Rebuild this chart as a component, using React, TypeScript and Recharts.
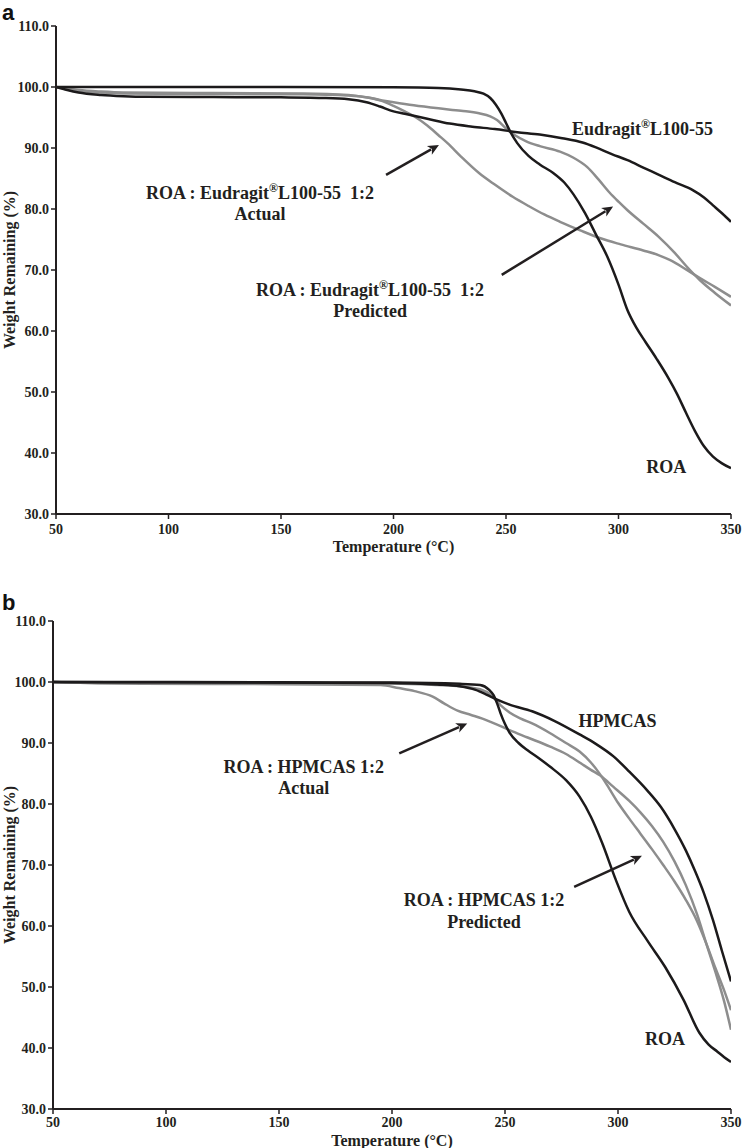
import React from 'react';
import {
	Label,
	Line,
	LineChart,
	ReferenceDot,
	ReferenceLine,
	XAxis,
	YAxis,
} from 'recharts';

type Pt = [number, number];

const xTicks = [50, 100, 150, 200, 250, 300, 350];
const yTicks = [30, 40, 50, 60, 70, 80, 90, 100, 110];

// panel a: temperature (°C), weight remaining (%)
const roaA: Pt[] = [
	[50, 100], [100, 100], [150, 100], [200, 99.95], [220, 99.85], [230, 99.6],
	[236, 99.3], [240, 98.9], [243, 98.2], [245.5, 97.1], [248, 95.6], [250, 94.1],
	[252, 92.6], [255, 90.8], [260, 88.7], [265, 87.3], [271, 85.9], [276, 84.3],
	[280, 82.4], [285, 79.4], [290, 75.8], [295, 72.2], [300, 67.6], [304, 63.4],
	[308, 60.5], [312, 58.2], [317, 55.4], [322, 52.4], [326, 49.7], [330, 46.6],
	[334, 43.6], [338, 41.1], [342, 39.4], [346, 38.3], [350, 37.5],
];
const eudragitA: Pt[] = [
	[50, 100], [55, 99.5], [60, 99.1], [70, 98.7], [80, 98.5], [90, 98.4],
	[120, 98.35], [150, 98.3], [170, 98.2], [180, 98.0], [188, 97.5], [194, 96.8],
	[200, 96.0], [205, 95.6], [215, 94.8], [225, 94.0], [235, 93.5], [245, 93.1],
	[255, 92.6], [265, 92.2], [275, 91.6], [284, 90.9], [290, 90.1], [297, 89.0],
	[304, 88.0], [311, 86.8], [318, 85.6], [325, 84.4], [333, 83.1], [338, 81.9],
	[342, 80.6], [346, 79.3], [350, 77.9],
];
const actualA: Pt[] = [
	[50, 100], [60, 99.5], [70, 99.25], [80, 99.1], [120, 99.0], [160, 98.95],
	[180, 98.7], [188, 98.3], [194, 97.8], [200, 96.9], [205, 96.0], [210, 95.0],
	[215, 93.7], [220, 92.1], [224, 90.8], [230, 88.6], [238, 85.9], [245, 84.0],
	[253, 82.0], [260, 80.5], [267, 79.1], [274, 77.9], [283, 76.5], [292, 75.2],
	[301, 74.2], [311, 73.2], [318, 72.4], [323, 71.6], [330, 70.1], [336, 68.7],
	[343, 67.2], [350, 65.6],
];
const predictedA: Pt[] = [
	[50, 100], [60, 99.4], [70, 99.1], [80, 98.95], [120, 98.85], [160, 98.8],
	[180, 98.6], [190, 98.2], [195, 97.8], [200, 97.5], [209, 97.0], [220, 96.5],
	[230, 96.1], [238, 95.7], [243, 95.2], [246, 94.6], [250, 93.2], [254, 92.1],
	[259, 91.1], [265, 90.3], [274, 89.4], [280, 88.4], [286, 86.9], [291, 84.9],
	[296, 82.7], [300, 81.2], [304, 79.8], [311, 77.6], [318, 75.4], [325, 72.8],
	[330, 70.7], [336, 68.4], [343, 66.2], [350, 64.2],
];

// panel b
const roaB: Pt[] = [
	[50, 100], [150, 99.95], [200, 99.9], [230, 99.7], [239, 99.5], [243, 98.7],
	[245, 97.8], [246.5, 96.5], [248, 94.9], [250, 93.1], [252, 91.7], [256, 90.0],
	[260, 88.8], [265, 87.5], [270, 86.1], [277, 83.9], [283, 81.2], [288, 77.9],
	[293, 73.6], [299, 67.6], [305, 62.3], [313, 57.6], [321, 53.2], [329, 47.9],
	[336, 42.5], [340, 40.6], [344, 39.4], [347, 38.5], [350, 37.7],
];
const hpmcasB: Pt[] = [
	[50, 100], [100, 99.95], [200, 99.85], [220, 99.6], [230, 99.3], [237, 98.7],
	[242, 97.9], [246, 97.2], [252, 96.3], [262, 95.2], [272, 93.6], [283, 91.4],
	[290, 89.9], [298, 87.8], [305, 85.3], [313, 82.2], [319, 79.5], [325, 75.9],
	[330, 72.4], [334, 69.1], [338, 65.4], [342, 61.0], [346, 55.9], [350, 50.9],
];
const actualB: Pt[] = [
	[50, 100], [70, 99.8], [90, 99.7], [150, 99.65], [195, 99.5], [203, 99.0],
	[210, 98.5], [218, 97.6], [223, 96.5], [229, 95.3], [235, 94.6], [240, 94.0],
	[246, 93.1], [252, 92.1], [260, 90.9], [270, 89.4], [277, 88.2], [283, 86.8],
	[288, 85.6], [292, 84.7], [298, 82.8], [305, 80.5], [310, 78.6], [315, 76.4],
	[320, 73.8], [325, 70.6], [330, 66.7], [335, 61.9], [339, 57.2], [343, 52.6],
	[347, 47.6], [350, 43.0],
];
const predictedB: Pt[] = [
	[50, 100], [70, 99.85], [150, 99.8], [200, 99.75], [220, 99.5], [230, 99.3],
	[239, 98.8], [244, 97.8], [248, 96.2], [252, 95.0], [257, 94.0], [262, 93.2],
	[270, 91.6], [277, 90.0], [283, 88.6], [288, 86.8], [292, 84.9], [296, 82.6],
	[300, 80.2], [305, 77.6], [310, 75.1], [315, 72.6], [320, 70.0], [325, 67.3],
	[330, 64.3], [335, 60.8], [339, 57.2], [343, 53.2], [347, 49.4], [350, 46.2],
];

// annotations, in data units: [temperature, weight, text]
const notesA: [number, number, string][] = [
	[310.7, 93.2, 'Eudragit®L100-55'],
	[140.7, 82.6, 'ROA : Eudragit®L100-55  1:2'],
	[140.7, 79.3, 'Actual'],
	[189.6, 66.7, 'ROA : Eudragit®L100-55  1:2'],
	[189.6, 63.4, 'Predicted'],
	[321.2, 37.8, 'ROA'],
];
const arrowsA: [number, number, number, number][] = [
	[196.7, 85.6, 220.2, 90.5],
	[248.1, 69.2, 297.6, 80.4],
];
const notesB: [number, number, string][] = [
	[299.8, 93.6, 'HPMCAS'],
	[161, 86.1, 'ROA : HPMCAS 1:2'],
	[161, 82.6, 'Actual'],
	[240.7, 64.3, 'ROA : HPMCAS 1:2'],
	[240.7, 60.7, 'Predicted'],
	[320.8, 41.6, 'ROA'],
];
const arrowsB: [number, number, number, number][] = [
	[203.2, 88.3, 233.3, 93.2],
	[280.6, 66.4, 310.6, 71.5],
];

const INK = '#231f20';
const BLACK = '#1c1a1b';
const GRAY = '#8d8d8d';
const SERIF = '"Liberation Serif", "Times New Roman", serif';

const rows = (pts: Pt[]) => pts.map(([t, w]) => ({t, w}));

function NoteText({cx, cy, text}: {cx: number; cy: number; text: string}) {
	const parts = text.split('®');
	return (
		<text
			x={cx}
			y={cy}
			dy="0.35em"
			textAnchor="middle"
			fontFamily={SERIF}
			fontWeight="bold"
			fontSize={18}
			fill={INK}
			style={{whiteSpace: 'pre'}}
		>
			{parts.length === 1 ? (
				text
			) : (
				<>
					<tspan>{parts[0]}</tspan>
					<tspan dy={-7} fontSize={12}>
						®
					</tspan>
					<tspan dy={7}>{parts[1]}</tspan>
				</>
			)}
		</text>
	);
}

function Arrow({x1, y1, x2, y2}: any) {
	const dx = x2 - x1;
	const dy = y2 - y1;
	const len = Math.sqrt(dx * dx + dy * dy) || 1;
	const ux = dx / len;
	const uy = dy / len;
	const head = 11;
	const half = 5;
	const bx = x2 - ux * head;
	const by = y2 - uy * head;
	return (
		<g>
			<line
				x1={x1}
				y1={y1}
				x2={bx + ux * 2}
				y2={by + uy * 2}
				stroke={INK}
				strokeWidth={2.5}
			/>
			<polygon
				points={`${x2},${y2} ${bx - uy * half},${by + ux * half} ${bx + ux * 3},${by + uy * 3} ${bx + uy * half},${by - ux * half}`}
				fill={INK}
			/>
		</g>
	);
}

function Panel({
	width,
	height,
	margin,
	yWidth,
	xHeight,
	xLabelOffset,
	xTickMargin,
	series,
	notes,
	arrows,
}: {
	width: number;
	height: number;
	margin: {top: number; right: number; bottom: number; left: number};
	yWidth: number;
	xHeight: number;
	xLabelOffset: number;
	xTickMargin: number;
	series: {pts: Pt[]; color: string; name: string}[];
	notes: [number, number, string][];
	arrows: [number, number, number, number][];
}) {
	const tickStyle = {
		fill: INK,
		fontSize: 14,
		fontWeight: 'bold',
		fontFamily: SERIF,
	};
	return (
		<LineChart width={width} height={height} margin={margin}>
			<XAxis
				type="number"
				dataKey="t"
				domain={[50, 350]}
				ticks={xTicks}
				allowDataOverflow
				height={xHeight}
				tick={tickStyle}
				tickSize={5}
				tickMargin={xTickMargin}
				axisLine={{stroke: INK, strokeWidth: 2}}
				tickLine={{stroke: INK, strokeWidth: 1.5}}
			>
				<Label
					value="Temperature (°C)"
					position="insideBottom"
					offset={xLabelOffset}
					fill={INK}
					fontSize={16}
					fontWeight="bold"
					fontFamily={SERIF}
				/>
			</XAxis>
			<YAxis
				type="number"
				dataKey="w"
				domain={[30, 110]}
				ticks={yTicks}
				allowDataOverflow
				width={yWidth}
				tick={tickStyle}
				tickSize={5}
				tickMargin={2}
				tickFormatter={(v: number) => v.toFixed(1)}
				axisLine={{stroke: INK, strokeWidth: 2}}
				tickLine={{stroke: INK, strokeWidth: 1.5}}
			>
				<Label
					value="Weight Remaining (%)"
					angle={-90}
					position="insideLeft"
					offset={9}
					fill={INK}
					fontSize={16}
					fontWeight="bold"
					fontFamily={SERIF}
					style={{textAnchor: 'middle'}}
				/>
			</YAxis>
			{series.map(s => (
				<Line
					key={s.name}
					name={s.name}
					data={rows(s.pts)}
					dataKey="w"
					type="monotone"
					stroke={s.color}
					strokeWidth={2.5}
					dot={false}
					activeDot={false}
					isAnimationActive={false}
				/>
			))}
			{arrows.map(([t1, w1, t2, w2], i) => (
				<ReferenceLine
					key={'arrow' + i}
					segment={[
						{x: t1, y: w1},
						{x: t2, y: w2},
					]}
					ifOverflow="visible"
					shape={(p: any) => <Arrow {...p} />}
				/>
			))}
			{notes.map(([t, w, text], i) => (
				<ReferenceDot
					key={'note' + i}
					x={t}
					y={w}
					r={0}
					ifOverflow="visible"
					shape={(p: any) => <NoteText cx={p.cx} cy={p.cy} text={text} />}
				/>
			))}
		</LineChart>
	);
}

const letterStyle: React.CSSProperties = {
	position: 'absolute',
	left: 2,
	fontFamily: '"Liberation Sans", Arial, sans-serif',
	fontWeight: 'bold',
	fontSize: 22,
	lineHeight: 'normal',
	color: '#111',
};

export default function App() {
	return (
		<div
			style={{
				position: 'absolute',
				left: 0,
				top: 0,
				width: 742,
				height: 1148,
				background: '#fff',
			}}
		>
			<div style={{position: 'absolute', left: 0, top: 0}}>
				<Panel
					width={742}
					height={560}
					margin={{top: 26, right: 11, bottom: 0, left: 0}}
					yWidth={56}
					xHeight={46}
					xLabelOffset={8}
					xTickMargin={5}
					series={[
						{pts: actualA, color: GRAY, name: 'ROA : Eudragit L100-55 1:2 Actual'},
						{pts: predictedA, color: GRAY, name: 'ROA : Eudragit L100-55 1:2 Predicted'},
						{pts: eudragitA, color: BLACK, name: 'Eudragit L100-55'},
						{pts: roaA, color: BLACK, name: 'ROA'},
					]}
					notes={notesA}
					arrows={arrowsA}
				/>
			</div>
			<div style={{position: 'absolute', left: 0, top: 560}}>
				<Panel
					width={742}
					height={588}
					margin={{top: 61, right: 11, bottom: 0, left: 0}}
					yWidth={53}
					xHeight={39}
					xLabelOffset={2}
					xTickMargin={3}
					series={[
						{pts: actualB, color: GRAY, name: 'ROA : HPMCAS 1:2 Actual'},
						{pts: predictedB, color: GRAY, name: 'ROA : HPMCAS 1:2 Predicted'},
						{pts: hpmcasB, color: BLACK, name: 'HPMCAS'},
						{pts: roaB, color: BLACK, name: 'ROA'},
					]}
					notes={notesB}
					arrows={arrowsB}
				/>
			</div>
			<div style={{...letterStyle, top: 0}}>a</div>
			<div style={{...letterStyle, top: 590}}>b</div>
		</div>
	);
}
